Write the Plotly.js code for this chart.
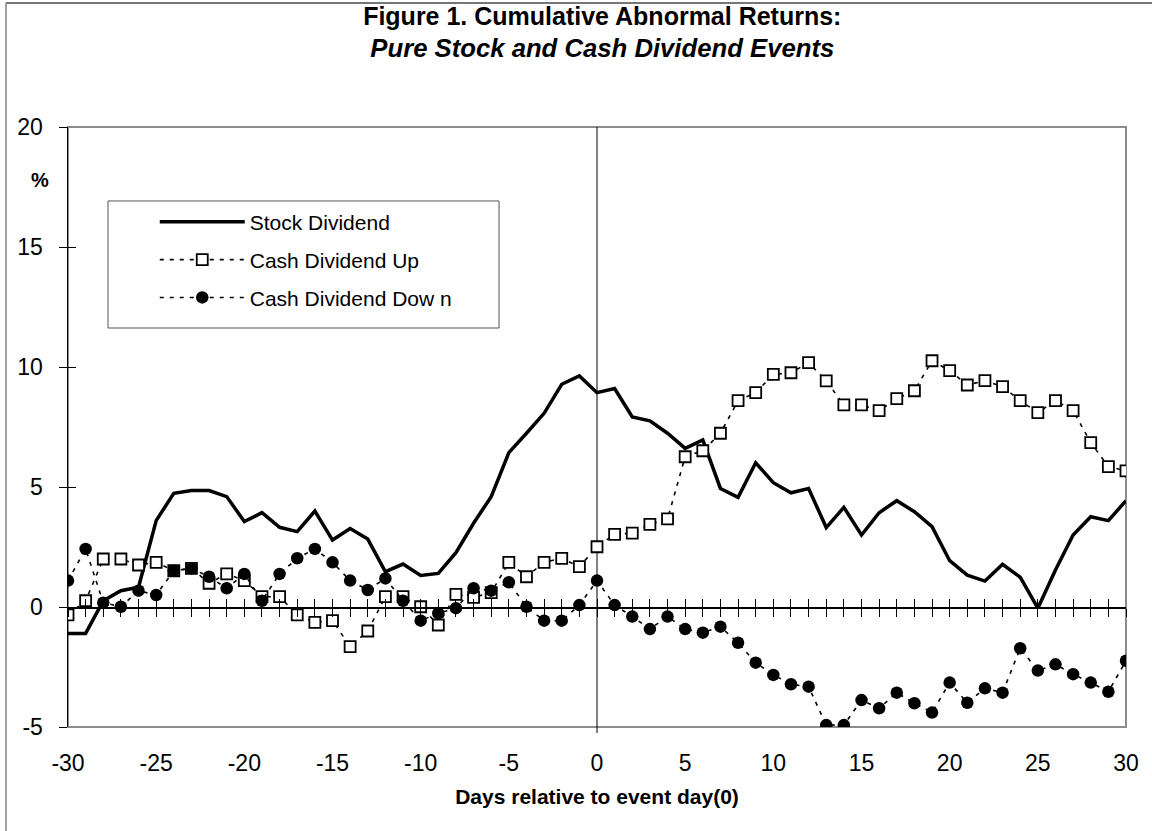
<!DOCTYPE html>
<html>
<head>
<meta charset="utf-8">
<script src="https://cdn.plot.ly/plotly-3.0.1.min.js"></script>
<style>
  html, body { margin: 0; padding: 0; background: #ffffff; }
  #chart { width: 1152px; height: 831px; }
</style>
</head>
<body>
<div id="chart"></div>
<script>
// ---- data ----
const days = [-30,-29,-28,-27,-26,-25,-24,-23,-22,-21,-20,-19,-18,-17,-16,-15,-14,-13,-12,-11,
              -10,-9,-8,-7,-6,-5,-4,-3,-2,-1,0,1,2,3,4,5,6,7,8,9,
              10,11,12,13,14,15,16,17,18,19,20,21,22,23,24,25,26,27,28,29,30];

const stockDividend = [-1.10,-1.10,0.26,0.68,0.82,3.60,4.74,4.85,4.85,4.60,
                       3.56,3.93,3.32,3.14,4.00,2.79,3.27,2.83,1.47,1.79,
                       1.31,1.40,2.26,3.49,4.60,6.43,7.24,8.07,9.28,9.63,
                       8.93,9.10,7.92,7.76,7.24,6.61,6.96,4.94,4.57,6.01,
                       5.18,4.76,4.94,3.31,4.15,3.00,3.93,4.43,3.97,3.35,
                       1.93,1.33,1.08,1.78,1.24,-0.05,1.54,3.00,3.76,3.60,4.43];

const cashDividendUp = [-0.33,0.26,2.00,2.00,1.75,1.86,1.51,1.61,0.99,1.38,
                        1.10,0.43,0.43,-0.33,-0.64,-0.57,-1.65,-1.00,0.43,0.43,
                        0.01,-0.75,0.53,0.40,0.60,1.86,1.26,1.86,2.03,1.68,
                        2.51,3.03,3.08,3.44,3.67,6.26,6.51,7.24,8.60,8.93,
                        9.69,9.76,10.18,9.42,8.42,8.42,8.18,8.68,9.01,10.26,
                        9.85,9.25,9.43,9.18,8.60,8.10,8.60,8.18,6.85,5.85,5.67];

const cashDividendDown = [1.10,2.42,0.18,0.01,0.68,0.50,1.51,1.61,1.26,0.78,
                          1.38,0.26,1.38,2.03,2.42,1.86,1.10,0.71,1.19,0.26,
                          -0.57,-0.26,-0.05,0.78,0.68,1.03,0.01,-0.57,-0.57,0.08,
                          1.10,0.08,-0.40,-0.92,-0.40,-0.92,-1.07,-0.82,-1.49,-2.32,
                          -2.83,-3.22,-3.32,-4.92,-4.92,-3.88,-4.22,-3.57,-4.01,-4.40,
                          -3.15,-3.99,-3.39,-3.57,-1.72,-2.65,-2.39,-2.80,-3.15,-3.53,-2.24];

const xTickVals = [-30,-25,-20,-15,-10,-5,0,5,10,15,20,25,30];
const xTickText = ['-30','-25','-20','-15','-10','-5','0','5','10','15','20','25','30'];
const yTickVals = [-5,0,5,10,15,20];
const yTickText = ['-5','0','5','10','15','20'];

const seriesNames = ['Stock Dividend', 'Cash Dividend Up', 'Cash Dividend Dow n'];
const titleLine1 = 'Figure 1. Cumulative Abnormal Returns:';
const titleLine2 = 'Pure Stock and Cash Dividend Events';
const xTitle = 'Days relative to event day(0)';
const yTitle = '%';

// ---- chart ----
const FONT = 'Liberation Sans, Arial, Helvetica, sans-serif';
const X_RANGE = [-30, 30];
const Y_RANGE = [-5, 20];

const traces = [
  { type: 'scatter', mode: 'lines', name: seriesNames[0], x: days, y: stockDividend,
    line: { color: '#000000', width: 3.5 }, legendgroup: 'a', hoverinfo: 'x+y' },
  { type: 'scatter', mode: 'lines+markers', name: seriesNames[1], x: days, y: cashDividendUp,
    line: { color: '#000000', width: 1.6, dash: '4px,6px' },
    marker: { symbol: 'square', size: 11, color: '#ffffff', line: { color: '#000000', width: 1.8 } },
    legendgroup: 'b', hoverinfo: 'x+y' },
  { type: 'scatter', mode: 'lines+markers', name: seriesNames[2], x: days, y: cashDividendDown,
    line: { color: '#000000', width: 1.6, dash: '4px,6px' },
    marker: { symbol: 'circle', size: 12.5, color: '#000000', line: { color: '#000000', width: 0 } },
    legendgroup: 'c', hoverinfo: 'x+y' },
  // empty traces so the overlay axes (crossing tick marks) are drawn
  { type: 'scatter', x: [], y: [], xaxis: 'x2', yaxis: 'y', showlegend: false, hoverinfo: 'skip' },
  { type: 'scatter', x: [], y: [], xaxis: 'x3', yaxis: 'y', showlegend: false, hoverinfo: 'skip' },
  { type: 'scatter', x: [], y: [], xaxis: 'x', yaxis: 'y2', showlegend: false, hoverinfo: 'skip' }
];

const zeroPos = (0 - Y_RANGE[0]) / (Y_RANGE[1] - Y_RANGE[0]);

const layout = {
  width: 1152, height: 831,
  paper_bgcolor: '#ffffff', plot_bgcolor: 'rgba(0,0,0,0)',
  margin: { l: 68, r: 26, t: 127, b: 104, pad: 0 },
  font: { family: FONT, color: '#000000', size: 22 },
  showlegend: true,
  title: {
    text: '<b>' + titleLine1 + '</b><br><b><i><span style="font-size:25.7px">' + titleLine2 + '</span></i></b>',
    font: { family: FONT, size: 25, color: '#000000' },
    x: 0.505, xref: 'paper', xanchor: 'center',
    y: 0.970, yref: 'container', yanchor: 'top'
  },
  xaxis: {
    range: X_RANGE, tickmode: 'array', tickvals: xTickVals, ticktext: xTickText,
    showline: false, ticks: '', showgrid: false, zeroline: false,
    tickfont: { family: FONT, size: 23, color: '#000000' },
    ticklabelstandoff: 20,
    title: { text: '<b>' + xTitle + '</b>', font: { family: FONT, size: 21, color: '#000000' }, standoff: 14 }
  },
  xaxis2: {
    overlaying: 'x', anchor: 'free', position: zeroPos, range: X_RANGE,
    showline: true, linecolor: '#000000', linewidth: 1.5,
    ticks: 'outside', ticklen: 8, tickwidth: 1, tickcolor: '#000000',
    tickmode: 'linear', tick0: -30, dtick: 1,
    showticklabels: false, showgrid: false, zeroline: false
  },
  xaxis3: {
    overlaying: 'x', anchor: 'free', position: zeroPos, range: X_RANGE,
    showline: false, ticks: 'inside', ticklen: 8, tickwidth: 1, tickcolor: '#000000',
    tickmode: 'linear', tick0: -30, dtick: 1,
    showticklabels: false, showgrid: false, zeroline: false
  },
  yaxis: {
    range: Y_RANGE, tickmode: 'array', tickvals: yTickVals, ticktext: yTickText,
    showline: true, linecolor: '#000000', linewidth: 1.5,
    ticks: 'outside', ticklen: 8, tickwidth: 1, tickcolor: '#000000',
    showgrid: false, zeroline: false,
    tickfont: { family: FONT, size: 23, color: '#000000' },
    ticklabelstandoff: 11
  },
  yaxis2: {
    overlaying: 'y', anchor: 'x', side: 'left', range: Y_RANGE,
    tickmode: 'array', tickvals: yTickVals,
    showline: false, ticks: 'inside', ticklen: 8, tickwidth: 1, tickcolor: '#000000',
    showticklabels: false, showgrid: false, zeroline: false
  },
  legend: {
    x: 0.082, xanchor: 'left', y: 0.8755, yanchor: 'top',
    bgcolor: 'rgba(0,0,0,0)', borderwidth: 0,
    font: { family: FONT, size: 21, color: '#000000' },
    itemwidth: 85, traceorder: 'grouped', tracegroupgap: 7.5
  },
  annotations: [
    { text: '<b>' + yTitle + '</b>', xref: 'paper', yref: 'y', x: -0.026, y: 17.8,
      xanchor: 'center', yanchor: 'middle', showarrow: false,
      font: { family: FONT, size: 20, color: '#000000' } }
  ],
  shapes: [
    // plot area frame (gray)
    { type: 'rect', xref: 'paper', yref: 'paper', x0: 0, x1: 1, y0: 0, y1: 1,
      line: { color: '#8c8c8c', width: 2 }, fillcolor: 'rgba(0,0,0,0)', layer: 'below' },
    // legend frame
    { type: 'rect', xref: 'paper', yref: 'paper', x0: 0.0378, x1: 0.4074, y0: 0.665, y1: 0.8767,
      line: { color: '#555555', width: 1 }, fillcolor: '#ffffff', layer: 'below' },
    // vertical event-day line
    { type: 'line', xref: 'x', yref: 'paper', x0: 0, x1: 0, y0: -0.01, y1: 1,
      line: { color: '#000000', width: 1 }, layer: 'below' },
    // outer chart frame (left and top edges)
    { type: 'line', xref: 'paper', yref: 'paper', x0: -0.0586, x1: -0.0586, y0: -0.2, y1: 1.2067,
      line: { color: '#444444', width: 1 } },
    { type: 'line', xref: 'paper', yref: 'paper', x0: -0.0586, x1: 1.03, y0: 1.2067, y1: 1.2067,
      line: { color: '#777777', width: 2 } }
  ]
};

Plotly.newPlot('chart', traces, layout, { displayModeBar: false, responsive: false, staticPlot: true });
</script>
</body>
</html>
